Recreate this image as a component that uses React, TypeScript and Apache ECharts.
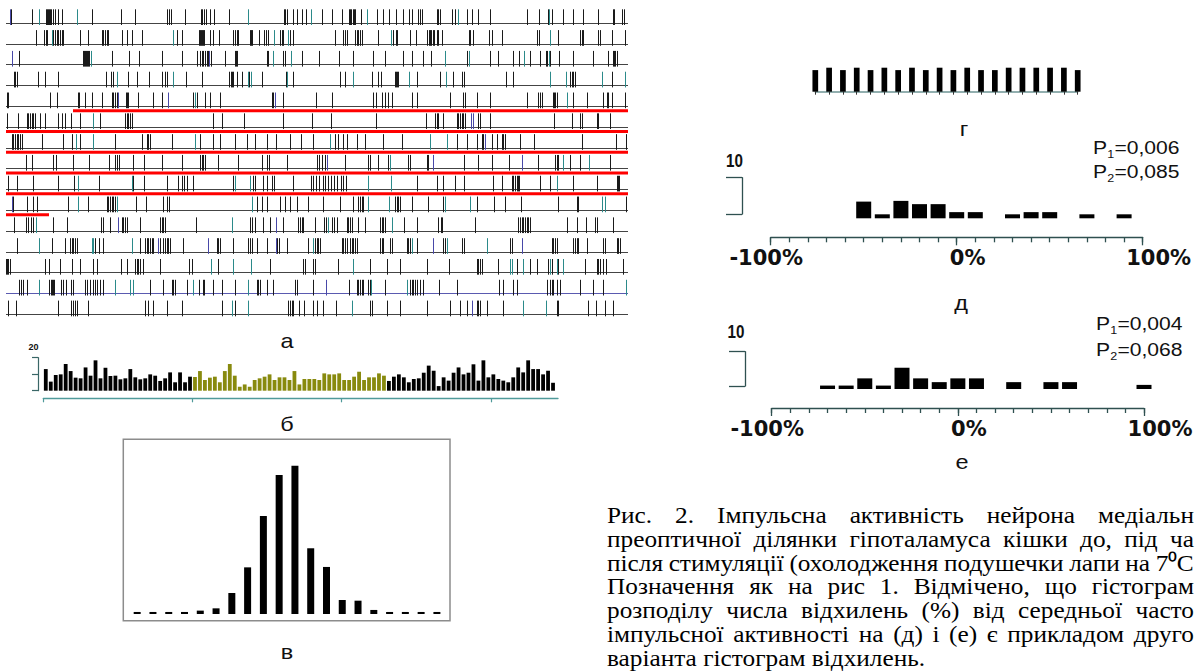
import React, { useEffect, useRef } from "react";
import * as echarts from "echarts";

const W = 1196;
const H = 672;

// ---------------- а: spike raster (15 sweeps) ----------------
const RASTER_SPAN = 622; // time units per sweep
const SPIKES_BLACK: number[][] = [
  [5,26,40,41,42,43,44,45,47,49,52,56,86,115,129,161,163,165,179,195,196,198,200,204,208,223,278,279,281,287,291,296,300,316,326,336,343,344,345,347,348,349,355,371,377,383,390,397,403,406,412,414,416,431,432,434,446,449,461,466,472,484,521,533,542,546,557,567,577,592,607,608,616,618],
  [30,38,40,41,47,49,51,52,54,56,57,74,82,96,97,99,101,102,116,121,126,136,171,176,193,194,195,196,197,198,204,207,213,227,229,231,232,244,245,246,253,258,260,262,274,276,277,284,287,329,337,339,341,349,351,352,354,356,372,387,390,391,404,410,421,423,424,425,427,428,431,432,436,463,464,467,483,486,496,531,533,552,574,576,577,592,594,606,619],
  [13,77,78,79,80,81,82,83,106,123,133,156,176,191,194,196,197,199,201,202,205,219,229,230,231,261,262,277,279,296,313,333,347,367,379,397,406,417,425,461,484,492,507,513,524,534,540,541,544,553,567,587,602,607,608,609,611],
  [8,9,11,32,39,52,100,105,107,122,131,143,156,159,161,180,196,223,225,226,227,231,236,243,256,280,287,334,339,366,372,375,389,390,391,392,411,434,447,456,458,500,507,564,566,567,569,606],
  [1,2,44,51,72,73,79,86,96,106,107,109,111,120,121,122,132,147,156,187,191,199,204,214,266,267,277,310,326,367,370,376,379,382,386,406,411,444,457,459,471,484,521,532,534,536,547,548,549,551,567,581,597,601,602,606,619],
  [1,12,21,22,24,26,27,29,34,39,52,56,59,65,74,94,119,121,122,124,126,207,216,238,277,306,325,370,420,429,431,432,437,451,452,454,456,457,459,472,474,484,548,566,574,576,591,592,604],
  [6,7,9,11,12,14,16,36,57,66,74,109,136,141,142,144,166,194,207,214,229,241,249,261,270,284,295,307,329,332,337,341,351,359,377,396,451,461,471,476,477,486,491,496,497,499,514,528,576,610,620],
  [20,26,47,50,67,83,103,109,111,113,127,138,156,176,194,196,197,199,212,232,256,261,263,281,311,313,316,319,339,362,364,372,382,402,404,421,422,458,472,486,503,532,549,551,552,564,574,604],
  [2,11,27,52,68,93,127,138,161,172,176,178,181,187,227,247,249,257,261,266,268,287,305,307,310,313,317,319,322,325,328,331,335,337,340,411,431,437,449,458,487,496,506,507,509,511,512,513,534,544,567,591,611,612,613],
  [7,21,27,31,62,82,101,102,104,106,107,109,130,140,157,161,163,251,256,261,274,279,284,291,302,317,334,347,352,354,356,357,389,391,392,394,406,422,437,471,488,499,515,552,571,572,620],
  [8,20,22,25,27,47,61,95,97,104,116,117,119,121,134,154,156,157,159,190,244,246,249,257,264,277,292,294,296,297,309,318,320,326,328,331,341,342,344,346,352,359,374,376,377,379,398,411,432,435,436,469,512,514,516,517,519,521,522,524,561,571,580,589,591,607],
  [11,46,59,64,66,67,69,71,89,93,97,134,139,141,142,144,146,147,154,157,159,161,162,164,177,211,212,214,227,242,244,246,251,261,271,273,281,302,309,311,312,314,336,337,339,341,344,346,347,349,351,374,376,377,384,386,401,402,404,411,437,439,456,458,504,506,546,547,549,551,567,569,571,572,581,597,599,611,612,614],
  [0,1,2,4,39,43,54,66,74,87,91,115,121,129,131,132,134,137,154,183,186,212,264,297,299,307,309,332,364,381,394,421,443,471,472,474,476,492,511,524,531,542,546,552,579,591,592,594,597,600,617],
  [13,15,17,21,43,45,46,47,48,55,57,60,65,67,79,81,84,87,89,91,94,97,144,157,166,167,169,181,193,197,198,207,216,229,251,252,254,261,267,289,291,307,343,351,352,354,356,357,362,364,379,404,406,407,409,411,414,417,433,451,493,497,507,511,541,544,546,547,551,554,574,587,597],
  [2,10,52,65,67,69,71,82,139,142,147,161,176,216,229,282,284,286,287,293,298,307,311,317,330,364,366,381,394,421,444,454,461,471,472,474,481,497,551,552,582,590,599,607],
];
const SPIKES_TEAL: number[][] = [
  [33,71,242,305,361,452,543],
  [46,167,268,282,385,544],
  [85,267,285,439,463,518,543],
  [111,167,242,245,281,347,403,440,544,560,596,619],
  [189,561],
  [87],
  [70,87,189,324,424,441],
  [384,557,583],
  [72,126,229,244,362,385,551],
  [72,111,246,362,383,439,464,596,599],
  [30,226,322,386],
  [33,86,87,126,307,406,441,481],
  [205,227,245,347,504,506,517,544,551,557],
  [33,109,124,127,187,242,365,401,620],
  [226,242,346,517,540],
];
const SPIKES_BLUE: number[][] = [
  [4],[],[6,203],[],[112,162,269],[465,467],[479],[321,427,516],[],[6],[112,270],[152,202,270,427,516],[],[320],[466],
];
const ROW_IDS = [0,1,2,3,4,5,6,7,8,9,10,11,12,13,14];
const ROW_LINE_COLORS = ["#444","#444","#444","#444","#444","#444","#444","#444","#444","#444","#444","#444","#444","#5a5ab0","#444"];
// stimulation period: [row, start, end]
const STIM_SEGMENTS = [[4,67,622],[5,0,622],[6,0,622],[7,0,622],[8,0,622],[9,0,43]];

// ---------------- б: rate histogram ----------------
const RATE_VALUES = [
  13.1,5.5,9.5,9.9,16.2,11.9,7.9,7.5,14.1,9.1,18.4,7.5,13.9,8.9,9.1,6.9,7.5,13.1,8.1,6.9,7.5,9.9,9.1,5.9,7.5,11.1,5.1,11.1,5.1,8.5,
  8.3,11.9,6.5,7.9,8.5,5.1,11.9,16.2,9.1,2.4,3.8,2.4,6.5,7.5,8.5,9.9,6.5,8.1,8.1,6.5,11.9,3.8,7.1,7.1,7.1,6.5,10.5,9.9,9.9,10.5,6.5,6.5,8.5,11.5,6.5,8.1,8.1,10.5,9.1,
  5.9,8.5,9.9,8.1,5.1,7.1,7.5,10.9,15.2,12.1,2.8,8.1,6.1,10.9,14.1,9.9,10.9,16.0,6.1,18.4,8.1,9.9,7.1,6.1,5.1,8.1,14.1,11.1,18.4,13.1,13.1,9.9,12.1,4.8,
];
const RATE_STIM_FIRST = 30;
const RATE_STIM_LAST = 68;
const RATE_TICKS = [0, 30, 60, 90];

// ---------------- в: interval histogram ----------------
const INTERVAL_HIST = [1.5,1.5,1.5,1.5,2.5,4.2,15.6,34.7,72.9,103.4,110.3,48.9,35.0,10.4,9.9,3.0,1.5,1.5,1.5,1.5];

// ---------------- г: regular bars ----------------
const REG_BARS = [9,10,9,10,9,10,9,10,9,10,9,10,9,9,10,10,10,10,10,9];
const REG_CATS = REG_BARS.map((_, i) => String(i + 1));

// ---------------- д, е: deviation histograms ----------------
const DEV_D_BINS = [-50,-40,-30,-20,-10,0,10,30,40,50,70,90];
const DEV_D_VALUES = [4.6,1.1,4.8,3.9,3.9,1.7,1.7,1.1,1.7,1.7,1.1,1.1];
const DEV_E_BINS = [-70,-60,-50,-40,-30,-20,-10,0,10,30,50,60,100];
const DEV_E_VALUES = [1,1,3.1,1,6.2,3.1,2,3.1,3.1,2,2,2,1.2];
const DEV_MAJOR = [-100, 0, 100];
const P_D = ["0,006", "0,085"];
const P_E = ["0,004", "0,068"];

const CAPTION_LINES = [
  "Рис. 2. Імпульсна активність нейрона медіальн",
  "преоптичної ділянки гіпоталамуса кішки до, під ча",
  "після стимуляції (охолодження подушечки лапи на 7⁰С",
  "Позначення як на рис 1. Відмічено, що гістограм",
  "розподілу числа відхилень (%) від середньої часто",
  "імпульсної активності на (д) і (е) є прикладом друго",
  "варіанта гістограм відхилень.",
];

const TEAL = "#2b8a8a";
const BLUE = "#4848a8";
const OLIVE = "#888a0e";
const AX = "#2f5050";

function hiddenAxis(gridIndex: number, extra: any = {}) {
  return {
    gridIndex, show: false,
    axisLine: { show: false }, axisTick: { show: false }, axisLabel: { show: false }, splitLine: { show: false },
    ...extra,
  };
}

function grid(left: number, top: number, width: number, height: number, extra: any = {}) {
  return { left, top, width, height, containLabel: false, outerBoundsMode: "none", ...extra };
}

function txt(x: number, y: number, text: string, font: string, sx = 1, align = "center", fill = "#111") {
  return {
    type: "text", x, y, scaleX: sx, silent: true,
    style: { text, font, fill, align, verticalAlign: "middle", textAlign: align, textVerticalAlign: "middle" },
  };
}

function pGroup(x: number, y: number, sub: string, val: string) {
  const f = '18.5px "Liberation Sans"';
  return {
    type: "group", x, y, scaleX: 1.14,
    children: [
      txt(0, 0, "P", f, 1, "left"),
      txt(12.4, 6.5, sub, '11px "Liberation Sans"', 1, "left"),
      txt(18.8, 0, "=" + val, f, 1, "left"),
    ],
  };
}

function caption(): any[] {
  const els: any[] = [];
  const fontSize = 23;
  const font = `${fontSize}px "Liberation Serif"`;
  const ctx = document.createElement("canvas").getContext("2d") as CanvasRenderingContext2D;
  ctx.font = font;
  const left = 607, right = 1194, top = 515, step = 23.8, baseScale = 1.1, minGap = 3.5;
  CAPTION_LINES.forEach((line, li) => {
    const words = line.split(" ");
    const widths = words.map((w) => ctx.measureText(w).width);
    const sum = widths.reduce((a, b) => a + b, 0);
    let s = baseScale;
    let gap = ctx.measureText(" ").width * s;
    if (li < CAPTION_LINES.length - 1 && words.length > 1) {
      const target = right - left;
      gap = (target - sum * s) / (words.length - 1);
      if (gap < minGap) {
        gap = minGap;
        s = (target - minGap * (words.length - 1)) / sum;
      }
    }
    let x = left;
    const y = top + li * step;
    words.forEach((w, i) => {
      els.push(txt(x, y, w, font, s, "left", "#000"));
      x += widths[i] * s + gap;
    });
  });
  return els;
}

function spikeSeries(rows: number[][], color: string) {
  return {
    type: "custom", xAxisIndex: 0, yAxisIndex: 0, silent: true, clip: false,
    encode: { x: 0, y: 1 },
    data: rows.flatMap((ts, r) => ts.map((t) => [t, r])),
    renderItem: (_p: any, api: any) => {
      const p = api.coord([api.value(0), api.value(1)]);
      const x = Math.round(p[0]) + 0.5;
      return { type: "line", shape: { x1: x, y1: p[1] + 2.3, x2: x, y2: p[1] - 13.4 }, style: { stroke: color, lineWidth: 1 } };
    },
  };
}

function devAxes(gridIndex: number) {
  return [
    {
      gridIndex, type: "value", min: -100, max: 100, interval: 10, position: "bottom", offset: 19,
      axisLine: { show: true, onZero: false, lineStyle: { color: AX, width: 1.3 } },
      axisTick: { show: true, length: 5, lineStyle: { color: AX, width: 1.3 } },
      axisLabel: { show: false }, splitLine: { show: false },
    },
    {
      gridIndex, type: "value", min: -100, max: 100, position: "bottom", offset: 19,
      axisLine: { show: false, onZero: false },
      axisTick: { show: true, length: 8, customValues: DEV_MAJOR, lineStyle: { color: AX, width: 1.3 } },
      axisLabel: {
        show: true, customValues: DEV_MAJOR, margin: 10, showMinLabel: true, showMaxLabel: true,
        formatter: (v: number) => (v < 0 ? `{a|${v}%}` : v === 0 ? `{b|${v}%}` : `{c|${v}%}`),
        rich: {
          a: { fontFamily: "DejaVu Sans", fontWeight: "bold", fontSize: 21, color: "#111", padding: [0, 9, 0, 0] },
          b: { fontFamily: "DejaVu Sans", fontWeight: "bold", fontSize: 21, color: "#111", padding: [0, 0, 0, 22] },
          c: { fontFamily: "DejaVu Sans", fontWeight: "bold", fontSize: 21, color: "#111", padding: [0, 0, 0, 32] },
        },
      },
      splitLine: { show: false },
    },
  ];
}

function bracketY(gridIndex: number) {
  return {
    gridIndex, type: "value", min: 0, max: 10, interval: 10, position: "left",
    axisLine: { show: true, onZero: false, lineStyle: { color: AX, width: 1.3 } },
    axisTick: { show: true, length: 16, inside: false, lineStyle: { color: AX, width: 1.3 } },
    axisLabel: { show: false }, splitLine: { show: false },
  };
}

function buildOption() {
  return {
    animation: false,
    backgroundColor: "#fff",
    textStyle: { fontFamily: "Liberation Sans" },
    grid: [
      grid(6, 22.7, 622, 291.3),          // 0 raster
      grid(43.3, 357.7, 514.7, 33),       // 1 б
      grid(123.3, 439.3, 326.7, 181.4, { show: true, borderColor: "#8c8c8c", borderWidth: 1.5, backgroundColor: "transparent" }), // 2 в
      grid(815.3, 67.7, 262.4, 24),       // 3 г
      grid(770.7, 182, 372, 36.3),        // 4 д bars
      grid(742, 177.7, 1, 36.3),          // 5 д scale bar
      grid(771.7, 354.7, 372.3, 34.3),    // 6 е bars
      grid(745, 351.7, 1, 34.3),          // 7 е scale bar
    ],
    xAxis: [
      hiddenAxis(0, { type: "value", min: 0, max: RASTER_SPAN }),
      {
        gridIndex: 1, type: "value", min: 0, max: RATE_VALUES.length + 0.5, offset: 7.6,
        axisLine: { show: true, onZero: false, lineStyle: { color: "#4f9a9a", width: 1.3 } },
        axisTick: { show: true, length: 4, customValues: RATE_TICKS, lineStyle: { color: "#4f9a9a", width: 1.2 } },
        axisLabel: { show: false }, splitLine: { show: false },
      },
      hiddenAxis(2, { type: "value", min: -0.88, max: 19.83 }),
      {
        gridIndex: 3, type: "category", data: REG_CATS, boundaryGap: false,
        axisLine: { show: true, onZero: false, lineStyle: { color: "#6f9595", width: 1.5 } },
        axisTick: { show: true, interval: 0, alignWithLabel: true, length: 3, lineStyle: { color: "#333" } },
        axisLabel: { show: false }, splitLine: { show: false },
      },
      ...devAxes(4),
      hiddenAxis(5, { type: "value", min: 0, max: 1 }),
      ...devAxes(6),
      hiddenAxis(7, { type: "value", min: 0, max: 1 }),
    ],
    yAxis: [
      hiddenAxis(0, { type: "value", min: 0, max: ROW_IDS.length - 1, inverse: true }),
      {
        gridIndex: 1, type: "value", min: 0, max: 20, interval: 10, offset: 5.3,
        axisLine: { show: true, onZero: false, lineStyle: { color: "#3a6767", width: 1.2 } },
        axisTick: { show: true, length: 6, lineStyle: { color: "#3a6767", width: 1.2 } },
        axisLabel: { show: false }, splitLine: { show: false },
      },
      hiddenAxis(2, { type: "value", min: -5, max: 130 }),
      hiddenAxis(3, { type: "value", min: 0, max: 10 }),
      hiddenAxis(4, { type: "value", min: 0, max: 10 }),
      bracketY(5),
      hiddenAxis(6, { type: "value", min: 0, max: 10 }),
      bracketY(7),
    ],
    series: [
      {
        type: "custom", xAxisIndex: 0, yAxisIndex: 0, silent: true, clip: false, encode: { x: 0, y: 1 },
        data: ROW_IDS.map((r) => [0, r]),
        renderItem: (_p: any, api: any) => {
          const r = api.value(1);
          const a = api.coord([0, r]);
          const b = api.coord([RASTER_SPAN, r]);
          const y = Math.round(a[1]) + 0.5;
          return { type: "line", shape: { x1: a[0], y1: y, x2: b[0], y2: y }, style: { stroke: ROW_LINE_COLORS[r], lineWidth: 1.2 } };
        },
      },
      {
        type: "custom", xAxisIndex: 0, yAxisIndex: 0, silent: true, clip: false, encode: { x: 0, y: 1 },
        data: STIM_SEGMENTS.map(([r, s, e]) => [s, r, e]),
        renderItem: (_p: any, api: any) => {
          const a = api.coord([api.value(0), api.value(1)]);
          const b = api.coord([api.value(2), api.value(1)]);
          return { type: "line", shape: { x1: a[0], y1: a[1] + 4.7, x2: b[0], y2: b[1] + 4.7 }, style: { stroke: "#ff0000", lineWidth: 3 } };
        },
      },
      spikeSeries(SPIKES_BLACK, "#1a1a1a"),
      spikeSeries(SPIKES_TEAL, TEAL),
      spikeSeries(SPIKES_BLUE, BLUE),
      {
        type: "bar", xAxisIndex: 1, yAxisIndex: 1, barWidth: 3.8, silent: true,
        data: RATE_VALUES.map((v, i) => ({
          value: [i + 0.5, v],
          itemStyle: { color: i >= RATE_STIM_FIRST && i <= RATE_STIM_LAST ? OLIVE : "#000" },
        })),
      },
      {
        type: "bar", xAxisIndex: 2, yAxisIndex: 2, barWidth: 7, silent: true,
        itemStyle: { color: "#000" },
        data: INTERVAL_HIST.map((v, i) => [i, v]),
      },
      {
        type: "bar", xAxisIndex: 3, yAxisIndex: 3, barWidth: 5.7, silent: true,
        itemStyle: { color: "#000" },
        data: REG_BARS,
      },
      {
        type: "bar", xAxisIndex: 4, yAxisIndex: 4, barWidth: 15, silent: true,
        itemStyle: { color: "#000" },
        data: DEV_D_BINS.map((b, i) => [b, DEV_D_VALUES[i]]),
      },
      {
        type: "bar", xAxisIndex: 7, yAxisIndex: 6, barWidth: 15, silent: true,
        itemStyle: { color: "#000" },
        data: DEV_E_BINS.map((b, i) => [b, DEV_E_VALUES[i]]),
      },
    ],
    graphic: [
      txt(287, 341, "а", '21px "Liberation Sans"', 1.12),
      txt(287, 424, "б", '21px "Liberation Sans"', 1.12),
      txt(287, 652, "в", '21px "Liberation Sans"', 1.12),
      txt(964, 129, "г", '21px "Liberation Sans"', 1.12),
      txt(961, 303, "д", '21px "Liberation Sans"', 1.12),
      txt(962, 462, "е", '21px "Liberation Sans"', 1.12),
      txt(33.5, 347, "20", 'bold 9px "Liberation Sans"'),
      txt(734.5, 160, "10", 'bold 19px "Liberation Sans"', 0.8),
      txt(736, 331.7, "10", 'bold 19px "Liberation Sans"', 0.8),
      pGroup(1093, 147, "1", P_D[0]),
      pGroup(1093, 171.5, "2", P_D[1]),
      pGroup(1096, 323.3, "1", P_E[0]),
      pGroup(1096, 349, "2", P_E[1]),
      ...caption(),
    ],
  };
}

export default function App() {
  const ref = useRef<HTMLDivElement>(null);
  useEffect(() => {
    const el = ref.current as HTMLDivElement;
    const chart = echarts.init(el, null, { renderer: "svg" });
    chart.setOption(buildOption() as any);
    return () => chart.dispose();
  }, []);
  return (
    <div
      ref={ref}
      style={{ position: "fixed", left: 0, top: 0, width: W, height: H, background: "#fff" }}
    />
  );
}
